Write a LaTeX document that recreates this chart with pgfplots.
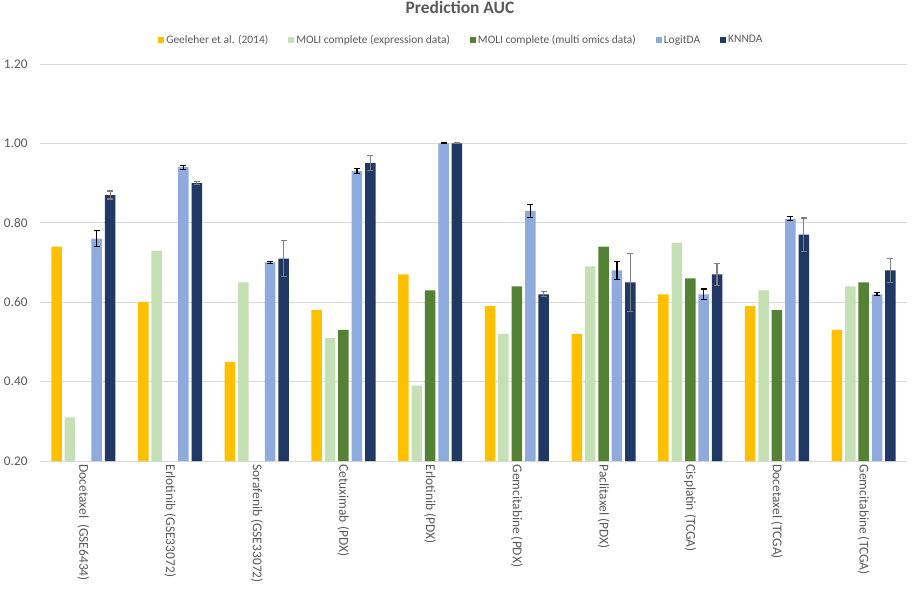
\documentclass[border=0pt]{standalone}
\usepackage{fontspec}
\setmainfont{Carlito}
\usepackage{pgfplots}
\usepackage{pgfplotstable}
\pgfplotsset{compat=1.18}
\definecolor{cYel}{HTML}{FFC000}
\definecolor{cLGr}{HTML}{C5E0B4}
\definecolor{cGrn}{HTML}{548235}
\definecolor{cBlu}{HTML}{8FAADC}
\definecolor{cNav}{HTML}{203864}
\definecolor{cText}{HTML}{595959}
\definecolor{cGrid}{HTML}{D9D9D9}
\definecolor{cErr}{HTML}{808080}
\pgfplotstableread{
x geel moliE moliM logit logitErr knn knnErr
0 0.74 0.31 nan 0.76 0.020 0.87 0.010
1 0.60 0.73 nan 0.94 0.005 0.90 0.004
2 0.45 0.65 nan 0.70 0.003 0.71 0.045
3 0.58 0.51 0.53 0.93 0.006 0.95 0.019
4 0.67 0.39 0.63 1.00 0.001 1.00 0.001
5 0.59 0.52 0.64 0.83 0.016 0.62 0.006
6 0.52 0.69 0.74 0.68 0.022 0.65 0.073
7 0.62 0.75 0.66 0.62 0.013 0.67 0.028
8 0.59 0.63 0.58 0.81 0.005 0.77 0.042
9 0.53 0.64 0.65 0.62 0.004 0.68 0.031
}\data
\pgfplotsset{sq/.style={legend image code/.code={\fill[##1] (0bp,-3bp) rectangle (6bp,3bp);}}}
\begin{document}
\begin{tikzpicture}
\useasboundingbox (-40bp,-128bp) rectangle (873bp,461bp);
\begin{axis}[
  at={(0,0)}, anchor=south west,
  scale only axis, width=867bp, height=397bp,
  ymin=0.2, ymax=1.2, xmin=-0.5, xmax=9.5,
  ybar=2.9bp, bar width=10.5bp,
  ytick={0.2,0.4,0.6,0.8,1.0,1.2},
  xtick={0,1,2,3,4,5,6,7,8,9},
  xticklabels={Docetaxel~ (GSE6434), Erlotinib (GSE33072), Sorafenib (GSE33072), Cetuximab (PDX), Erlotinib (PDX), Gemcitabine (PDX), Paclitaxel (PDX), Cisplatin (TCGA), Docetaxel (TCGA), Gemcitabine (TCGA)},
  major tick length=0pt,
  axis x line*=bottom, axis y line*=left,
  x axis line style={draw=cGrid, line width=0.75bp, -},
  y axis line style={draw=none},
  ymajorgrids, major grid style={draw=cGrid, line width=0.75bp},
  /pgf/number format/.cd, fixed, fixed zerofill, precision=2, assume math mode=true,
  /pgfplots/.cd,
  yticklabel style={font=\fontsize{13.3}{15}\selectfont, text=cText, xshift=-9bp},
  xticklabel style={font=\fontsize{13.5}{15}\selectfont, text=cText, rotate=-90, anchor=west},
  title={Prediction AUC},
  title style={at={(0.4844,1.1285)}, anchor=center, font=\fontsize{17.5}{20}\selectfont\bfseries, text=cText},
  legend style={at={(0.486,1.0605)}, anchor=center, draw=none, fill=none, legend columns=5,
    font=\fontsize{11.5}{13}\selectfont, text=cText,
    /tikz/every even column/.append style={column sep=18bp}},
]
\addplot[fill=cYel, draw=none, sq] table[x=x, y=geel]{\data};
\addlegendentry{Geeleher et al. (2014)}
\addplot[fill=cLGr, draw=none, sq] table[x=x, y=moliE]{\data};
\addlegendentry{MOLI complete (expression data)}
\addplot[fill=cGrn, draw=none, sq] table[x=x, y=moliM]{\data};
\addlegendentry{MOLI complete (multi omics data)}
\addplot[fill=cBlu, draw=none, sq,
  error bars/.cd, y dir=both, y explicit,
  error bar style={draw=black, line width=1.3bp},
  error mark options={draw=black, rotate=90, mark size=3bp, line width=1.3bp}]
  table[x=x, y=logit, y error=logitErr]{\data};
\addlegendentry{LogitDA}
\addplot[fill=cNav, draw=none, sq,
  error bars/.cd, y dir=both, y explicit,
  error bar style={draw=cErr, line width=1.2bp},
  error mark options={draw=cErr, rotate=90, mark size=3bp, line width=1.2bp}]
  table[x=x, y=knn, y error=knnErr]{\data};
\addlegendentry{KNNDA}
\end{axis}
\end{tikzpicture}
\end{document}
